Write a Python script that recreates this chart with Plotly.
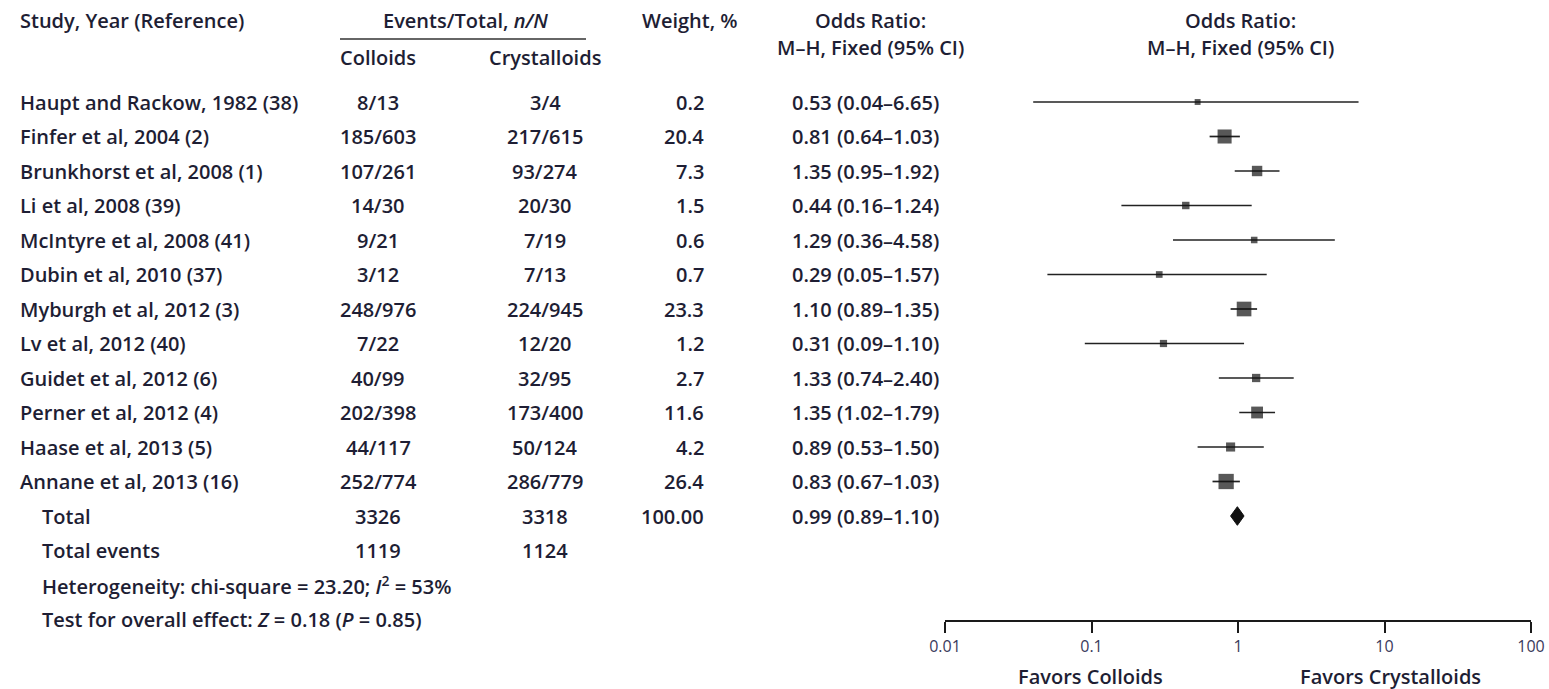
import plotly.graph_objects as go

# ---------------- data ----------------
studies = ["Haupt and Rackow, 1982 (38)", "Finfer et al, 2004 (2)", "Brunkhorst et al, 2008 (1)",
           "Li et al, 2008 (39)", "McIntyre et al, 2008 (41)", "Dubin et al, 2010 (37)",
           "Myburgh et al, 2012 (3)", "Lv et al, 2012 (40)", "Guidet et al, 2012 (6)",
           "Perner et al, 2012 (4)", "Haase et al, 2013 (5)", "Annane et al, 2013 (16)"]
colloids = ["8/13", "185/603", "107/261", "14/30", "9/21", "3/12", "248/976", "7/22", "40/99",
            "202/398", "44/117", "252/774"]
crystalloids = ["3/4", "217/615", "93/274", "20/30", "7/19", "7/13", "224/945", "12/20", "32/95",
                "173/400", "50/124", "286/779"]
weights = [0.2, 20.4, 7.3, 1.5, 0.6, 0.7, 23.3, 1.2, 2.7, 11.6, 4.2, 26.4]
odds = [0.53, 0.81, 1.35, 0.44, 1.29, 0.29, 1.10, 0.31, 1.33, 1.35, 0.89, 0.83]
ci_low = [0.04, 0.64, 0.95, 0.16, 0.36, 0.05, 0.89, 0.09, 0.74, 1.02, 0.53, 0.67]
ci_high = [6.65, 1.03, 1.92, 1.24, 4.58, 1.57, 1.35, 1.10, 2.40, 1.79, 1.50, 1.03]

total_colloids, total_crystalloids, total_weight = "3326", "3318", "100.00"
events_colloids, events_crystalloids = "1119", "1124"
total_or, total_low, total_high = 0.99, 0.89, 1.10
heterogeneity = "Heterogeneity: chi-square = 23.20; <i>I</i><sup>2</sup> = 53%"
overall = "Test for overall effect: <i>Z</i> = 0.18 (<i>P</i> = 0.85)"

tick_vals = [0.01, 0.1, 1, 10, 100]
tick_text = ["0.01", "0.1", "1", "10", "100"]

# ---------------- layout helpers ----------------
W, H = 1549, 689
ROW0, ROWH = 102, 34.5          # pixel y of first row, row spacing
AX_Y = 620                      # pixel y of the x-axis line
TXT = "#1e1e34"
FONT = "Open Sans"
FS = 20


def px(x):
    return x / W


def py(y):
    return 1 - y / H


def row_of(p):
    return (p - ROW0) / ROWH


fig = go.Figure()

# CI lines
xs, ys = [], []
for i, (lo, hi) in enumerate(zip(ci_low, ci_high)):
    xs += [lo, hi, None]
    ys += [i, i, None]
fig.add_trace(go.Scatter(x=xs, y=ys, mode="lines", line=dict(color="#222222", width=1.7),
                         hoverinfo="skip", showlegend=False))

# point estimates (square size by weight)
sizes = [5 + 2.0 * w ** 0.5 for w in weights]
fig.add_trace(go.Scatter(x=odds, y=list(range(len(odds))), mode="markers",
                         marker=dict(symbol="square", size=sizes, color="#111111", line=dict(width=0)),
                         showlegend=False))

# total diamond
tr = len(studies)
fig.add_trace(go.Scatter(x=[total_low, total_or, total_high, total_or, total_low],
                         y=[tr, tr - 0.27, tr, tr + 0.27, tr], mode="lines", fill="toself",
                         fillcolor="#111111", line=dict(color="#111111", width=1),
                         showlegend=False, hoverinfo="skip"))

# vertical reference line at OR = 1
fig.add_shape(type="line", xref="x", yref="y", x0=0, x1=0, y0=row_of(85), y1=row_of(AX_Y),
              line=dict(color="#1a1a1a", width=1.7))

ann = []


def text(x, y, s, anchor="left", size=FS, color=TXT, yref="y"):
    ann.append(dict(x=px(x), xref="paper", y=y, yref=yref, text=s, showarrow=False,
                    xanchor=anchor, yanchor="middle", font=dict(size=size, color=color, family=FONT)))


# headers
text(18, row_of(20), "Study, Year (Reference)")
text(465, row_of(20), "Events/Total, <i>n/N</i>", "center")
text(378, row_of(57), "Colloids", "center")
text(545, row_of(57), "Crystalloids", "center")
text(740, row_of(20), "Weight, %", "right")
text(870, row_of(20), "Odds Ratio:", "center")
text(870, row_of(47), "M\u2013H, Fixed (95% CI)", "center")
text(1240, row_of(20), "Odds Ratio:", "center")
text(1240, row_of(47), "M\u2013H, Fixed (95% CI)", "center")
fig.add_shape(type="line", xref="paper", yref="y", x0=px(340), x1=px(586), y0=row_of(39), y1=row_of(39),
              line=dict(color="#333", width=1.5))

# study rows
for i, s in enumerate(studies):
    text(18, i, s)
    text(378, i, colloids[i], "center")
    text(545, i, crystalloids[i], "center")
    text(706, i, f"{weights[i]:.1f}", "right")
    text(790, i, f"{odds[i]:.2f} ({ci_low[i]:.2f}\u2013{ci_high[i]:.2f})")

# totals
text(40, tr, "Total")
text(378, tr, total_colloids, "center")
text(545, tr, total_crystalloids, "center")
text(706, tr, total_weight, "right")
text(790, tr, f"{total_or:.2f} ({total_low:.2f}\u2013{total_high:.2f})")
text(40, tr + 1, "Total events")
text(378, tr + 1, events_colloids, "center")
text(545, tr + 1, events_crystalloids, "center")
text(40, tr + 2, heterogeneity)
text(40, tr + 3, overall)

# favours labels (below the axis, paper coordinates)
text(1090, py(676), "Favors Colloids", "center", yref="paper")
text(1390, py(676), "Favors Crystalloids", "center", yref="paper")

fig.update_layout(
    width=W, height=H, margin=dict(l=0, r=0, t=0, b=0, autoexpand=False),
    paper_bgcolor="white", plot_bgcolor="white",
    font=dict(family=FONT, size=FS, color=TXT, weight=600),
    annotations=ann,
    xaxis=dict(type="log", range=[-2, 2], domain=[px(945), px(1531)],
               tickvals=tick_vals, ticktext=tick_text, showgrid=False, zeroline=False,
               showline=True, linecolor="#1a1a1a", linewidth=1.7,
               ticks="outside", ticklen=11, tickwidth=1.7, tickcolor="#1a1a1a",
               tickfont=dict(size=16, color="#3a3a5c", family=FONT, weight=400),
               anchor="y", automargin=False),
    yaxis=dict(range=[row_of(AX_Y), row_of(0)], domain=[(H - AX_Y) / H, 1],
               visible=False, showgrid=False, zeroline=False, automargin=False),
    showlegend=False,
)

fig.write_html("out.html", config={"displayModeBar": False},
               post_script="document.body.style.margin='0';document.body.style.overflow='hidden';")
